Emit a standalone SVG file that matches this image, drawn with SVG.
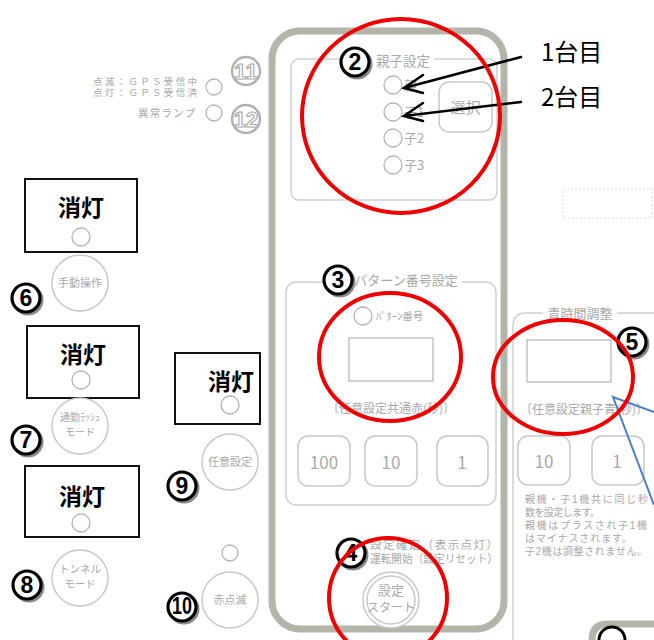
<svg xmlns="http://www.w3.org/2000/svg" width="654" height="640" viewBox="0 0 654 640" lang="ja">
<style>
.g{font-family:"Noto Sans CJK JP","Noto Sans",sans-serif;fill:#a9a9a9}
.t{font-family:"Liberation Sans","Noto Sans CJK JP",sans-serif;fill:#a9a9a9}
.pan{fill:none;stroke:#cfcfcf;stroke-width:1.5}
.btn{fill:#fff;stroke:#c8c8c8;stroke-width:1.5}
.led{fill:#fff;stroke:#b3b3b3;stroke-width:1.3}
.red{fill:none;stroke:#ee0000;stroke-width:4}
.box{fill:#fff;stroke:#111;stroke-width:2}
.off{font-family:"Noto Sans CJK JP",sans-serif;font-weight:bold;font-size:23px;fill:#000;text-anchor:middle}
.cs{fill:none;stroke:#8a8a8a;stroke-width:3}
.cc{fill:#fff;stroke:#000;stroke-width:3.2}
.cd{font-family:"Liberation Sans","Noto Sans",sans-serif;font-weight:bold;font-size:23px;text-anchor:middle;fill:#000}
.gc{fill:#fff;stroke:#b0b0b0;stroke-width:2.4}
.gd{font-family:"Liberation Sans Narrow","Liberation Sans",sans-serif;font-weight:bold;font-size:22px;text-anchor:middle;fill:#fff;stroke:#a8a8a8;stroke-width:1.1}
.lab{font-family:"Noto Sans CJK JP",sans-serif;font-size:24px;fill:#000}
.arr{fill:none;stroke:#000;stroke-width:2.5;stroke-linecap:round}
.note{font-size:10px}
</style>
<rect width="654" height="640" fill="#fff"/>

<!-- main panel -->
<g id="main-panel">
<rect x="272" y="31" width="232" height="598" rx="28" fill="none" stroke="#b5b4ab" stroke-width="7"/>
</g>
<g id="bottom-right-panel">
<path d="M592 640 Q592 624 608 624 H654" fill="none" stroke="#b5b4ab" stroke-width="7"/>
<path d="M599 640 A13 13 0 0 1 625 640" fill="none" stroke="#000" stroke-width="3"/>
</g>

<!-- GPS / alarm -->
<g id="gps">
<text class="t" x="93" y="85" font-size="9.5" textLength="104" lengthAdjust="spacing">点滅：ＧＰＳ受信中</text>
<text class="t" x="93" y="96" font-size="9.5" textLength="104" lengthAdjust="spacing">点灯：ＧＰＳ受信済</text>
<circle class="led" cx="214" cy="87" r="8"/>
<circle class="gc" cx="246" cy="71" r="14"/>
<text class="gd" x="246" y="79">11</text>
</g>
<g id="alarm">
<text class="g" x="138" y="117" font-size="10.5" textLength="57" lengthAdjust="spacing">異常ランプ</text>
<circle class="led" cx="214" cy="113" r="8"/>
<circle class="gc" cx="246" cy="119" r="14"/>
<text class="gd" x="246" y="127">12</text>
</g>

<!-- oyako settei -->
<g id="oyako">
<rect class="pan" x="291" y="59" width="206" height="141" rx="8"/>
<rect x="372" y="52" width="62" height="18" fill="#fff"/>
<text class="g" x="403" y="66" font-size="13.5" text-anchor="middle">親子設定</text>
<circle class="led" cx="393" cy="85" r="9"/>
<circle class="led" cx="393" cy="112" r="9"/>
<circle class="led" cx="393" cy="138" r="9"/>
<circle class="led" cx="393" cy="165" r="9"/>
<text class="g" x="404" y="90" font-size="13">親</text>
<text class="g" x="404" y="117" font-size="13">子1</text>
<text class="g" x="404" y="143" font-size="13">子2</text>
<text class="g" x="404" y="170" font-size="13">子3</text>
<rect class="btn" x="439" y="82" width="53" height="50" rx="10"/>
<text class="g" x="465.5" y="113" font-size="15" text-anchor="middle">選択</text>
<circle class="cs" cx="357" cy="64" r="14"/>
<circle class="cc" cx="355" cy="62" r="14"/>
<text class="cd" x="355" y="70">2</text>
</g>

<!-- pattern -->
<g id="pattern">
<rect class="pan" x="286" y="282" width="210" height="223" rx="10"/>
<rect x="350" y="272" width="112" height="18" fill="#fff"/>
<text class="g" x="406" y="285" font-size="13" text-anchor="middle">パターン番号設定</text>
<circle class="led" cx="363" cy="316" r="9"/>
<text class="g" x="376" y="320" font-size="10.5">ﾊﾟﾀｰﾝ番号</text>
<rect x="349" y="338" width="84" height="43" fill="#fff" stroke="#b8b8b8" stroke-width="1.3"/>
<text class="g" x="391" y="413" font-size="12" text-anchor="middle">〔任意設定共通赤(秒)〕</text>
<rect class="btn" x="298" y="436" width="52" height="50" rx="10"/>
<rect class="btn" x="365" y="436" width="52" height="50" rx="10"/>
<rect class="btn" x="437" y="436" width="51" height="50" rx="10"/>
<text class="g" x="324" y="469" font-size="17" text-anchor="middle">100</text>
<text class="g" x="391" y="469" font-size="17" text-anchor="middle">10</text>
<text class="g" x="462" y="469" font-size="17" text-anchor="middle">1</text>
<circle class="cs" cx="340" cy="282" r="14"/>
<circle class="cc" cx="338" cy="280" r="14"/>
<text class="cd" x="338" y="288">3</text>
</g>

<!-- start -->
<g id="start">
<text class="t" x="370" y="549" font-size="11.5" textLength="128" lengthAdjust="spacing">設定確定（表示点灯）</text>
<text class="t" x="370" y="563" font-size="11.5" textLength="128" lengthAdjust="spacingAndGlyphs">運転開始（設定リセット）</text>
<circle class="btn" cx="391" cy="600" r="28"/>
<circle class="btn" cx="391" cy="600" r="24"/>
<text class="g" x="391" y="595" font-size="13" text-anchor="middle">設定</text>
<text class="g" x="391" y="612" font-size="12" text-anchor="middle">スタート</text>
<circle class="cs" cx="353" cy="555" r="14"/>
<circle class="cc" cx="351" cy="553" r="14"/>
<text class="cd" x="351" y="561">4</text>
</g>

<!-- aojikan -->
<g id="ao">
<path class="pan" d="M654 313 H526 Q513 313 513 326 V640"/>
<rect x="543" y="304" width="74" height="18" fill="#fff"/>
<text class="g" x="580" y="318" font-size="13" text-anchor="middle">青時間調整</text>
<rect x="527" y="340" width="84" height="42" fill="#fff" stroke="#b8b8b8" stroke-width="1.3"/>
<text class="g" x="520" y="414" font-size="12">〔任意設定親子青(秒)〕</text>
<rect class="btn" x="518" y="436" width="52" height="49" rx="10"/>
<rect class="btn" x="592" y="436" width="52" height="49" rx="10"/>
<text class="g" x="544" y="468" font-size="17" text-anchor="middle">10</text>
<text class="g" x="617" y="468" font-size="17" text-anchor="middle">1</text>
<text class="t note" x="525" y="503" textLength="123" lengthAdjust="spacing">親機・子1機共に同じ秒</text>
<text class="t note" x="525" y="516" textLength="75" lengthAdjust="spacing">数を設定します。</text>
<text class="t note" x="525" y="529" textLength="122" lengthAdjust="spacing">親機はプラスされ子1機</text>
<text class="t note" x="525" y="542" textLength="107" lengthAdjust="spacing">はマイナスされます。</text>
<text class="t note" x="525" y="555" textLength="122" lengthAdjust="spacing">子2機は調整されません。</text>
<rect x="563" y="189" width="89" height="29" fill="none" stroke="#d8d8d8" stroke-width="1" stroke-dasharray="2 2"/>
<circle class="cs" cx="634" cy="344" r="14"/>
<circle class="cc" cx="632" cy="342" r="14"/>
<text class="cd" x="632" y="350">5</text>
</g>

<!-- left column -->
<g id="manual">
<rect class="box" x="25" y="179" width="112" height="73"/>
<text class="off" x="81" y="216">消灯</text>
<circle class="led" cx="81" cy="237" r="9"/>
<circle class="btn" cx="80" cy="283" r="28"/>
<text class="g" x="80" y="287" font-size="11" text-anchor="middle">手動操作</text>
<circle class="cs" cx="28" cy="300" r="14"/>
<circle class="cc" cx="26" cy="298" r="14"/>
<text class="cd" x="26" y="306">6</text>
</g>
<g id="rush">
<rect class="box" x="27" y="326" width="112" height="72"/>
<text class="off" x="83" y="363">消灯</text>
<circle class="led" cx="81" cy="380" r="9"/>
<circle class="btn" cx="80" cy="426" r="28"/>
<text class="g" x="80" y="421" font-size="10" text-anchor="middle">通勤ﾗｯｼｭ</text>
<text class="g" x="80" y="436" font-size="10" text-anchor="middle">モード</text>
<circle class="cs" cx="28" cy="442" r="14"/>
<circle class="cc" cx="26" cy="440" r="14"/>
<text class="cd" x="26" y="448">7</text>
</g>
<g id="tunnel">
<rect class="box" x="25" y="466" width="114" height="71"/>
<text class="off" x="82" y="505">消灯</text>
<circle class="led" cx="81" cy="523" r="9"/>
<circle class="btn" cx="80" cy="578" r="28"/>
<text class="g" x="80" y="573" font-size="10.5" text-anchor="middle">トンネル</text>
<text class="g" x="80" y="588" font-size="10.5" text-anchor="middle">モード</text>
<circle class="cs" cx="29" cy="587" r="14"/>
<circle class="cc" cx="27" cy="585" r="14"/>
<text class="cd" x="27" y="593">8</text>
</g>
<g id="nini">
<rect class="box" x="175" y="353" width="85" height="71"/>
<text class="off" x="231" y="390">消灯</text>
<circle class="led" cx="230" cy="405" r="9"/>
<circle class="btn" cx="230" cy="462" r="28"/>
<text class="g" x="230" y="466" font-size="11" text-anchor="middle">任意設定</text>
<circle class="cs" cx="184" cy="488" r="14"/>
<circle class="cc" cx="182" cy="486" r="14"/>
<text class="cd" x="182" y="494">9</text>
</g>
<g id="aka">
<circle class="led" cx="230" cy="553" r="8"/>
<circle class="btn" cx="230" cy="600" r="28"/>
<text class="g" x="230" y="604" font-size="11" text-anchor="middle">赤点滅</text>
<circle class="cs" cx="184" cy="609" r="14"/>
<circle class="cc" cx="182" cy="607" r="14"/>
<text class="cd" x="182" y="614" font-size="19" textLength="20" lengthAdjust="spacingAndGlyphs">10</text>
</g>

<!-- annotations -->
<g id="connectors">
<line class="arr" x1="521" y1="57" x2="404" y2="88"/>
<polyline class="arr" points="423,75 404,88 423,93"/>
<line class="arr" x1="521" y1="102" x2="404" y2="116"/>
<polyline class="arr" points="423,103 404,116 423,121"/>
<polyline fill="none" stroke="#4a7fc8" stroke-width="2" points="654,412 613,397 654,505"/>
</g>
<g id="labels">
<text class="lab" x="541" y="61">1台目</text>
<text class="lab" x="541" y="106">2台目</text>
</g>
<g id="red-circles">
<ellipse class="red" cx="401" cy="116" rx="99" ry="97"/>
<ellipse class="red" cx="390" cy="357" rx="71" ry="64"/>
<ellipse class="red" cx="563" cy="377" rx="70" ry="57"/>
<ellipse class="red" cx="388" cy="598" rx="59" ry="60"/>
</g>
</svg>
